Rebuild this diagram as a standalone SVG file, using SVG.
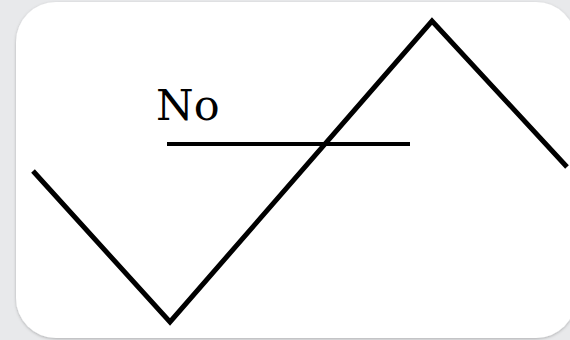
<svg xmlns="http://www.w3.org/2000/svg" width="570" height="340" viewBox="0 0 570 340">
  <defs>
    <filter id="shadow" x="-10%" y="-10%" width="120%" height="120%">
      <feDropShadow dx="0" dy="1" stdDeviation="1.5" flood-color="#000" flood-opacity="0.25"/>
    </filter>
    <style>
      .ln { fill: none; stroke: #000; stroke-linejoin: miter; stroke-linecap: butt; }
      .lbl { font-family: "DejaVu Serif", "Liberation Serif", serif; font-size: 43px; fill: #000; }
    </style>
  </defs>
  <rect x="0" y="0" width="570" height="340" fill="#e8e9eb"/>
  <g id="card">
    <rect x="16" y="2" width="560" height="336" rx="40" ry="40" fill="#fff" filter="url(#shadow)"/>
  </g>
  <g id="label">
    <text class="lbl" x="156" y="120">No</text>
  </g>
  <g id="connectors">
    <polyline class="ln" stroke-width="5" points="33,171 170,322 432,21 567,167"/>
    <line class="ln" stroke-width="4" x1="167" y1="144" x2="410" y2="144"/>
  </g>
</svg>
